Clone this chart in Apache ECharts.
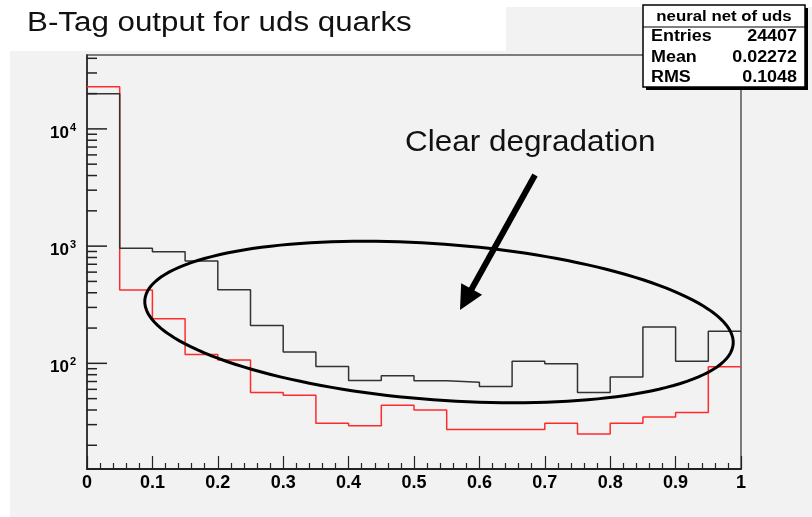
<!DOCTYPE html>
<html>
<head>
<meta charset="utf-8">
<script src="https://cdn.jsdelivr.net/npm/echarts@6/dist/echarts.min.js"></script>
<style>
html,body{margin:0;padding:0;background:#fff;}
#chart{width:812px;height:517px;}
</style>
</head>
<body>
<div id="chart"></div>
<script>
// ---- data ----
const binEdges = [0, 0.05, 0.1, 0.15, 0.2, 0.25, 0.3, 0.35, 0.4, 0.45, 0.5, 0.55, 0.6, 0.65, 0.7, 0.75, 0.8, 0.85, 0.9, 0.95, 1];
const blackCounts = [19900, 960, 895, 745, 425, 210, 125, 94, 71.5, 78.5, 71, 69, 63.5, 104, 99, 56.5, 76.5, 204, 104, 188];
const redCounts = [22900, 422, 240, 119, 107, 56.4, 53.5, 30.9, 29.3, 44, 40, 27.3, 27.3, 27.3, 30.9, 25, 30.9, 34.9, 38, 93.7];
const yMajorTicks = [100, 1000, 10000];
const yMajorExponents = ['2', '3', '4'];
const yMinorTicks = [20, 30, 40, 50, 60, 70, 80, 90, 200, 300, 400, 500, 600, 700, 800, 900,
  2000, 3000, 4000, 5000, 6000, 7000, 8000, 9000, 20000, 30000, 40000];
const statsTitle = 'neural net of uds';
const statsNames = ['Entries', 'Mean', 'RMS'];
const statsValues = ['24407', '0.02272', '0.1048'];
const chartTitle = 'B-Tag output for uds quarks';
const annotation = 'Clear degradation';

// ---- build ----
function stepData(counts) {
  return binEdges.map((x, i) => [x, counts[Math.min(i, counts.length - 1)]]);
}
const FONT = '"Liberation Sans", Arial, Helvetica, sans-serif';

const tickData = yMajorTicks.map((v, i) => [0, v, 1, i]).concat(yMinorTicks.map(v => [0, v, 0, -1]));

// ellipse annotation outline
const ell = { cx: 439, cy: 322, a: 295, b: 78, rot: 4.27 * Math.PI / 180 };
const ellPts = [];
for (let k = 0; k < 160; k++) {
  const t = k / 160 * Math.PI * 2;
  ellPts.push([
    ell.cx + ell.a * Math.cos(t) * Math.cos(ell.rot) - ell.b * Math.sin(t) * Math.sin(ell.rot),
    ell.cy + ell.a * Math.cos(t) * Math.sin(ell.rot) + ell.b * Math.sin(t) * Math.cos(ell.rot)
  ]);
}
// arrow
const arrowStart = [535, 175], arrowTip = [460, 310];
const dx = arrowTip[0] - arrowStart[0], dy = arrowTip[1] - arrowStart[1];
const len = Math.hypot(dx, dy), ux = dx / len, uy = dy / len;
const headL = 24, headW = 12;
const base = [arrowTip[0] - headL * ux, arrowTip[1] - headL * uy];
const headPts = [
  arrowTip,
  [base[0] + headW * uy, base[1] - headW * ux],
  [base[0] - headW * uy, base[1] + headW * ux]
];

function txt(x, y, text, size, weight, align, valign, scaleX, fill) {
  return {
    type: 'text', x: x, y: y, scaleX: scaleX || 1, z: 100,
    style: {
      text: text, fill: fill || '#000', fontSize: size, fontWeight: weight, fontFamily: FONT,
      align: align, verticalAlign: valign, textAlign: align, textVerticalAlign: valign
    }
  };
}

const graphics = [
  { type: 'rect', z: -10, shape: { x: 10, y: 51, width: 802, height: 466 }, style: { fill: '#f2f2f2' } },
  { type: 'rect', z: -10, shape: { x: 506, y: 7, width: 306, height: 45 }, style: { fill: '#f2f2f2' } },
  txt(27, 24, chartTitle, 27, 'normal', 'left', 'middle', 1.16, '#111'),
  // stats box
  { type: 'rect', z: 90, shape: { x: 646, y: 8, width: 162, height: 82 }, style: { fill: '#000' } },
  { type: 'rect', z: 91, shape: { x: 643, y: 5, width: 162, height: 82 }, style: { fill: '#fff', stroke: '#000', lineWidth: 1.5 } },
  { type: 'line', z: 92, shape: { x1: 643, y1: 27, x2: 805, y2: 27 }, style: { stroke: '#000', lineWidth: 1.2 } },
  txt(724, 17, statsTitle, 14, 'bold', 'center', 'middle', 1.2),
  // annotation
  txt(405, 143, annotation, 30, 'normal', 'left', 'middle', 1.05, '#111'),
  { type: 'polygon', z: 80, shape: { points: ellPts }, style: { fill: 'none', stroke: '#000', lineWidth: 3 } },
  { type: 'line', z: 80, shape: { x1: arrowStart[0], y1: arrowStart[1], x2: base[0] + 2 * ux, y2: base[1] + 2 * uy }, style: { stroke: '#000', lineWidth: 6 } },
  { type: 'polygon', z: 80, shape: { points: headPts }, style: { fill: '#000' } }
];
statsNames.forEach((n, i) => {
  graphics.push(txt(651, 37 + i * 20.5, n, 16, 'bold', 'left', 'middle', 1.12));
  graphics.push(txt(797, 37 + i * 20.5, statsValues[i], 16, 'bold', 'right', 'middle', 1.12));
});

const chart = echarts.init(document.getElementById('chart'), null, { renderer: 'canvas' });
chart.setOption({
  backgroundColor: '#fff',
  animation: false,
  grid: { left: 87, right: 71, top: 55, bottom: 48, show: true, borderColor: '#555', borderWidth: 1.5, backgroundColor: 'transparent' },
  xAxis: {
    type: 'value', min: 0, max: 1, interval: 0.1,
    axisLine: { lineStyle: { color: '#222', width: 2 } },
    axisTick: { inside: true, length: 13, lineStyle: { color: '#222', width: 1.2 } },
    minorTick: { show: true, splitNumber: 5, length: 6, lineStyle: { color: '#222', width: 1.2 } },
    splitLine: { show: false },
    axisLabel: {
      margin: 5, color: '#000', fontSize: 18, fontWeight: 'bold', fontFamily: FONT,
      formatter: v => (v === 0 ? '0' : (Math.abs(v - 1) < 1e-9 ? '1' : v.toFixed(1)))
    }
  },
  yAxis: {
    type: 'log', logBase: 10, min: 12.55, max: 42700,
    axisLine: { show: true, lineStyle: { color: '#222', width: 1.5 } },
    axisTick: { show: false },
    axisLabel: { show: false },
    splitLine: { show: false },
    minorTick: { show: false },
    minorSplitLine: { show: false }
  },
  graphic: graphics,
  series: [
    {
      type: 'line', step: 'end', data: stepData(redCounts), symbol: 'none',
      lineStyle: { color: '#ff2b2b', width: 1.5 }, z: 3
    },
    {
      type: 'line', step: 'end', data: stepData(blackCounts), symbol: 'none',
      lineStyle: { color: '#333', width: 1.5 }, z: 4
    },
    {
      type: 'custom', clip: false, z: 5, silent: true,
      data: tickData,
      renderItem: function (params, api) {
        const v = api.value(1);
        const major = api.value(2) === 1;
        const idx = api.value(3);
        const p = api.coord([0, v]);
        const children = [{
          type: 'line',
          shape: { x1: p[0], y1: p[1], x2: p[0] + (major ? 20 : 10), y2: p[1] },
          style: { stroke: '#222', lineWidth: 1.5 }
        }];
        if (major) {
          children.push({
            type: 'text', x: p[0] - 18, y: p[1] + 4,
            style: { text: '10', fill: '#000', font: 'bold 17px ' + FONT, align: 'right', verticalAlign: 'middle', textAlign: 'right', textVerticalAlign: 'middle' }
          });
          children.push({
            type: 'text', x: p[0] - 17, y: p[1] - 1,
            style: { text: yMajorExponents[idx], fill: '#000', font: 'bold 11px ' + FONT, align: 'left', verticalAlign: 'middle', textAlign: 'left', textVerticalAlign: 'middle' }
          });
        }
        return { type: 'group', children: children };
      }
    }
  ]
});
</script>
</body>
</html>
